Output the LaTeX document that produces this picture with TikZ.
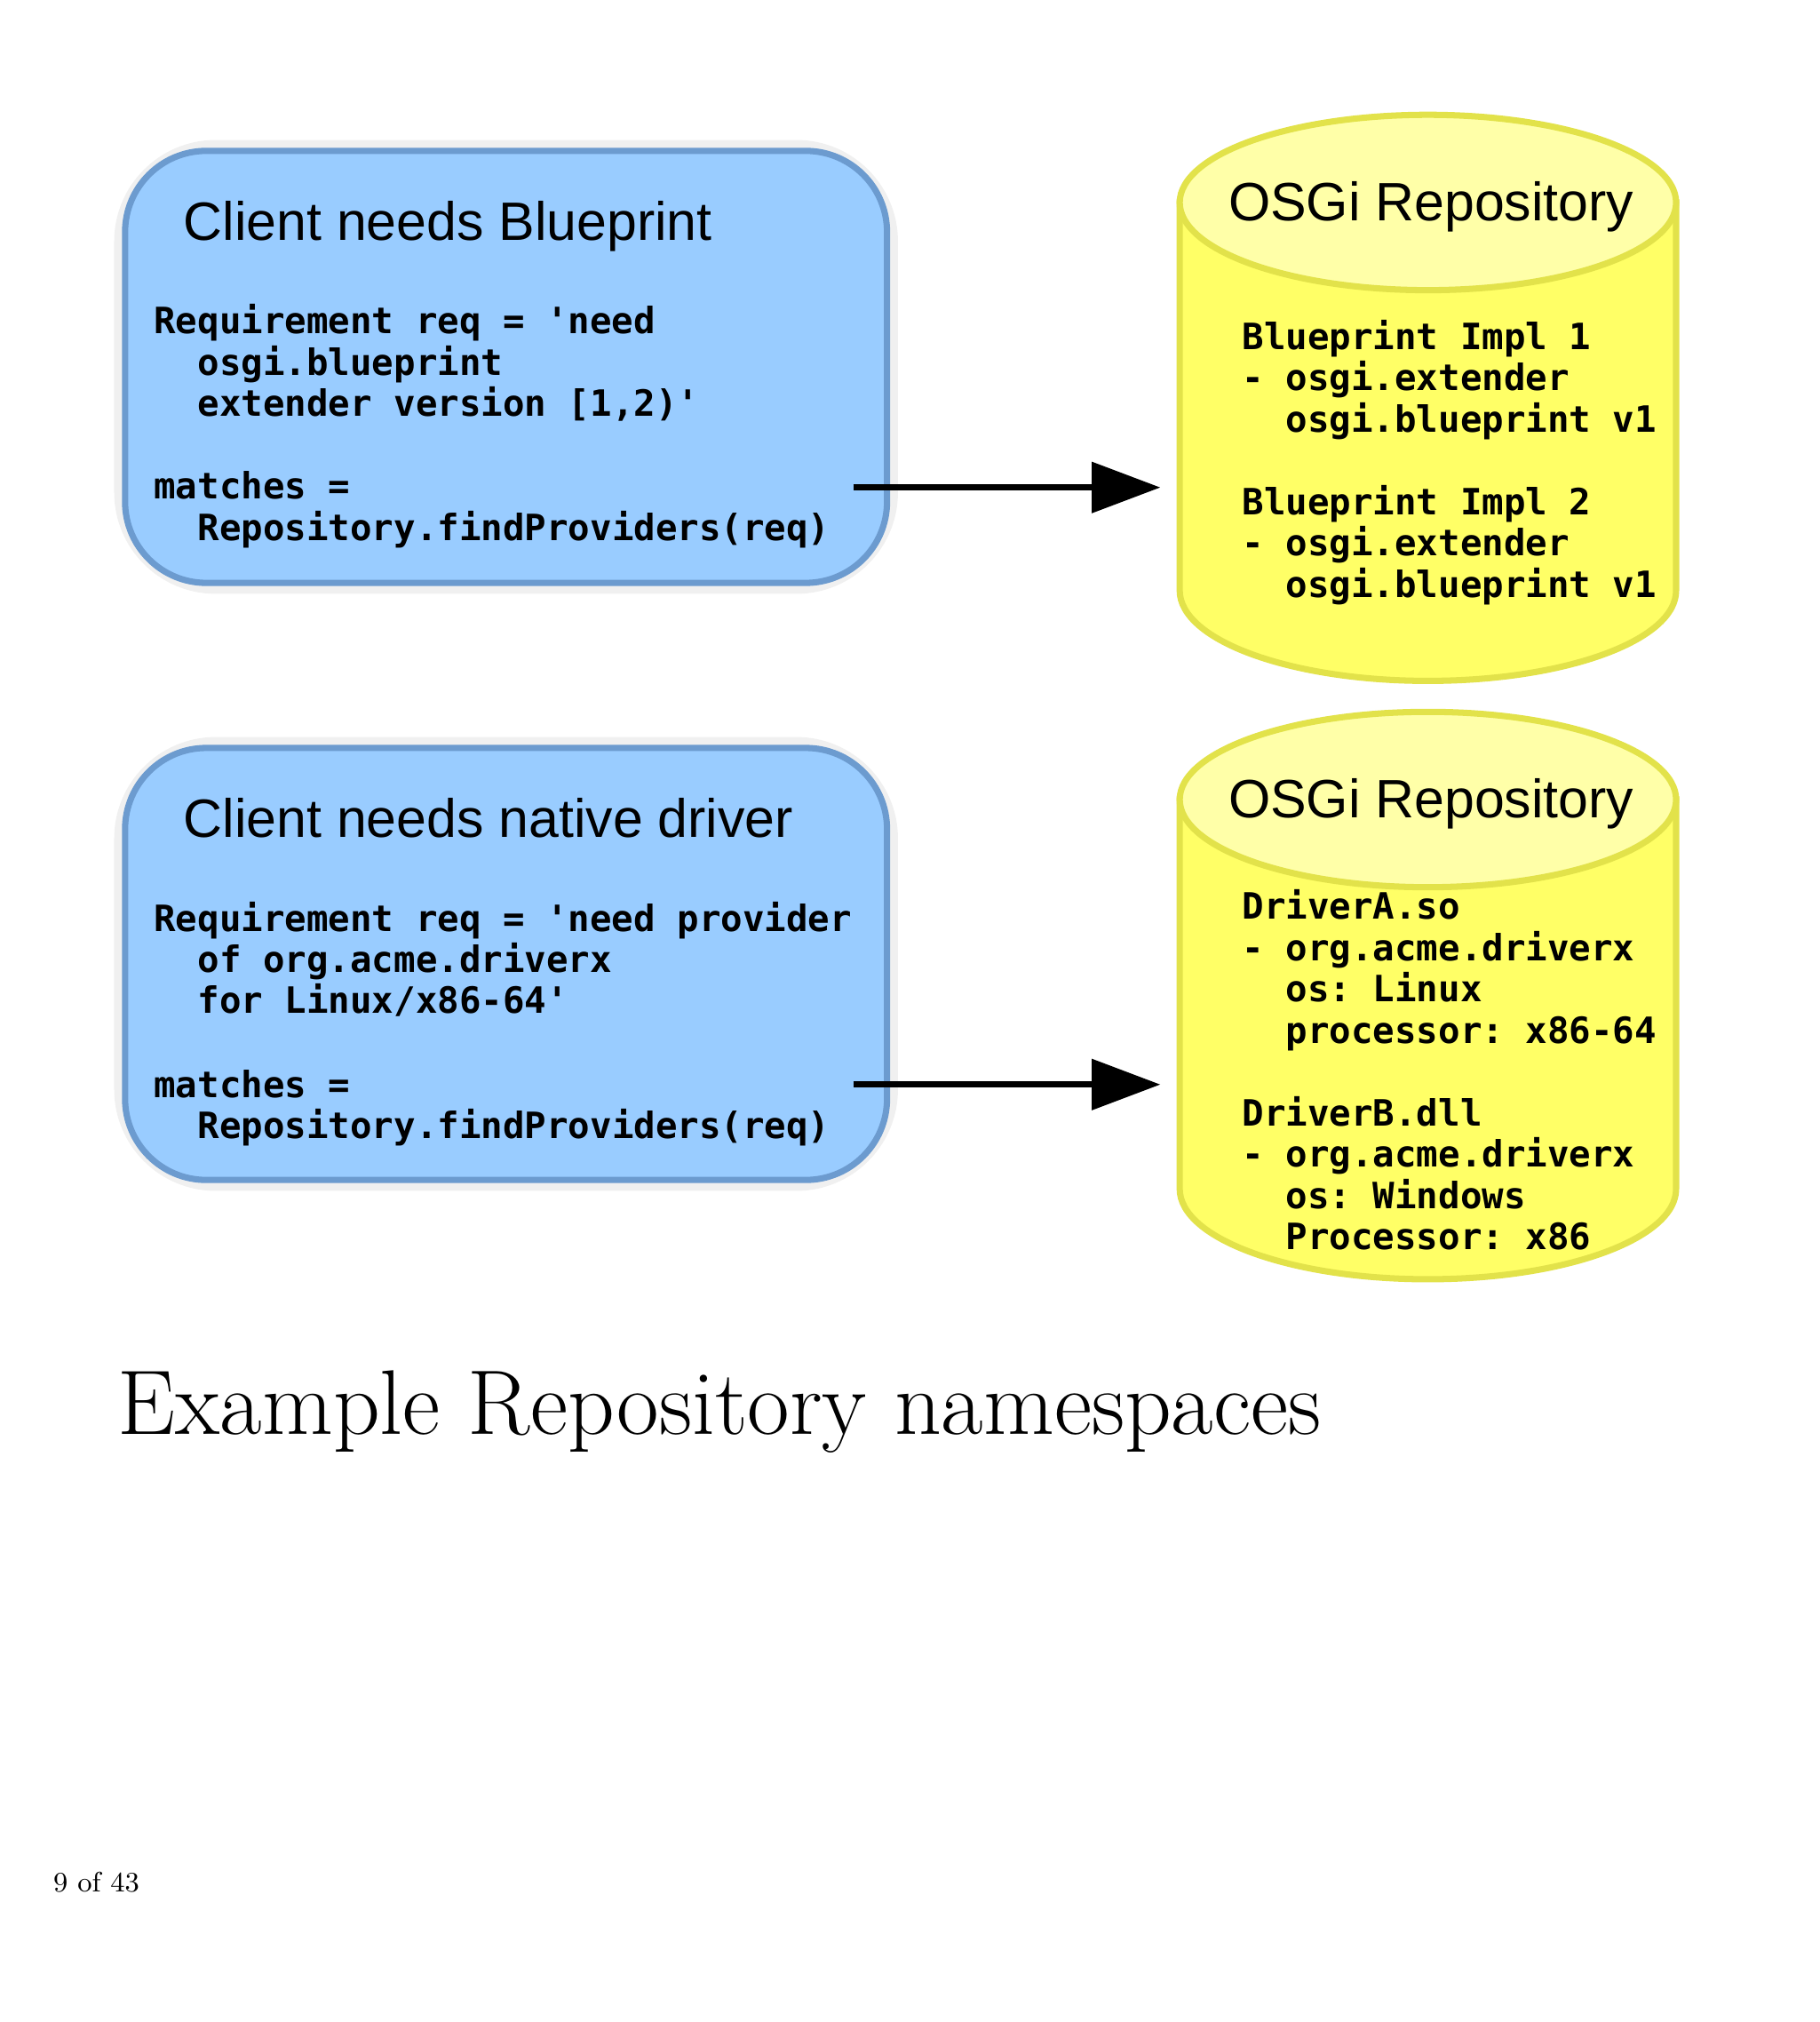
\documentclass[tikz,border=0pt]{standalone}
\usepackage{fontspec}
\setmainfont{Liberation Sans}
\setmonofont{DejaVu Sans Mono}
\newfontfamily\capfont{Latin Modern Roman}
\usetikzlibrary{fit,arrows.meta}
\definecolor{boxfill}{HTML}{99CCFF}
\definecolor{boxline}{HTML}{6C9BCF}
\definecolor{cylfill}{HTML}{FFFF66}
\definecolor{cyltop}{HTML}{FFFFA8}
\definecolor{cylline}{HTML}{E2E24A}
\begin{document}
\begin{tikzpicture}[x=0.014515cm,y=-0.014515cm,
  box/.style={draw=boxline,fill=boxfill,line width=2pt,rounded corners=26pt,inner sep=0pt},
  glow/.style={draw=black!6,line width=7pt,rounded corners=29pt},
  ttl/.style={font=\fontsize{17.3}{20}\selectfont,anchor=base west,inner sep=0pt},
  mono/.style={font=\ttfamily\bfseries\fontsize{11.6}{13.2}\selectfont,anchor=base west,inner sep=0pt},
  cyl/.style={fill=cylfill,draw=cylline,line width=2pt},
  arr/.style={line width=2pt,-{Triangle[length=22pt,width=16pt]}}]
\useasboundingbox (0,0) rectangle (1411,1568);
% boxes
\draw[glow] (97,117) rectangle (688,452);
\node[box,fit={(97,117)(688,452)}] (b1) {};
\draw[glow] (97,580) rectangle (688,915);
\node[box,fit={(97,580)(688,915)}] (b2) {};
\node[ttl] (t1) at (142,186) {Client needs Blueprint};
\node[mono] (l11) at (119,259) {Requirement req = 'need};
\node[mono] (l12) at (119,291) {\ \ osgi.blueprint};
\node[mono] (l13) at (119,323) {\ \ extender version [1,2)'};
\node[mono] (l14) at (119,387) {matches =};
\node[mono] (l15) at (119,419) {\ \ Repository.findProviders(req)};
\node[ttl] (t2) at (142,649) {Client needs native driver};
\node[mono] (l21) at (119,722) {Requirement req = 'need provider};
\node[mono] (l22) at (119,754) {\ \ of org.acme.driverx};
\node[mono] (l23) at (119,786) {\ \ for Linux/x86-64'};
\node[mono] (l24) at (119,851) {matches =};
\node[mono] (l25) at (119,883) {\ \ Repository.findProviders(req)};
% cylinders
\foreach \t/\b/\n in {157/458/c1,620/922/c2}{
  \path[cyl] (915,\t) -- (915,\b) arc(180:0:192.5 and 70) -- (1300,\t) -- cycle;
  \path[cyl,fill=cyltop] (1107.5,\t) ellipse (192.5 and 68);
}
\node[ttl,anchor=base] (r1) at (1110,171) {OSGi Repository};
\node[ttl,anchor=base] (r2) at (1110,634) {OSGi Repository};
\node[mono] (m11) at (963,271) {Blueprint Impl 1};
\node[mono] (m12) at (963,303) {- osgi.extender};
\node[mono] (m13) at (963,335) {\ \ osgi.blueprint v1};
\node[mono] (m14) at (963,399) {Blueprint Impl 2};
\node[mono] (m15) at (963,431) {- osgi.extender};
\node[mono] (m16) at (963,463) {\ \ osgi.blueprint v1};
\node[mono] (m21) at (963,713) {DriverA.so};
\node[mono] (m22) at (963,745) {- org.acme.driverx};
\node[mono] (m23) at (963,777) {\ \ os: Linux};
\node[mono] (m24) at (963,809) {\ \ processor: x86-64};
\node[mono] (m25) at (963,873) {DriverB.dll};
\node[mono] (m26) at (963,905) {- org.acme.driverx};
\node[mono] (m27) at (963,937) {\ \ os: Windows};
\node[mono] (m28) at (963,969) {\ \ Processor: x86};
% arrows
\coordinate (a1) at (662,378); \coordinate (e1) at (900,378);
\coordinate (a2) at (662,841); \coordinate (e2) at (900,841);
\draw[arr] (a1) -- (e1);
\draw[arr] (a2) -- (e2);
% caption
\node[font=\capfont\fontsize{29.4}{34}\selectfont,anchor=base west,inner sep=0pt] (cap) at (91,1112) {Example Repository namespaces};
\node[font=\capfont\fontsize{9}{11}\selectfont,anchor=base west,inner sep=0pt] (pg) at (41,1467) {9 of 43};
\end{tikzpicture}
\end{document}
